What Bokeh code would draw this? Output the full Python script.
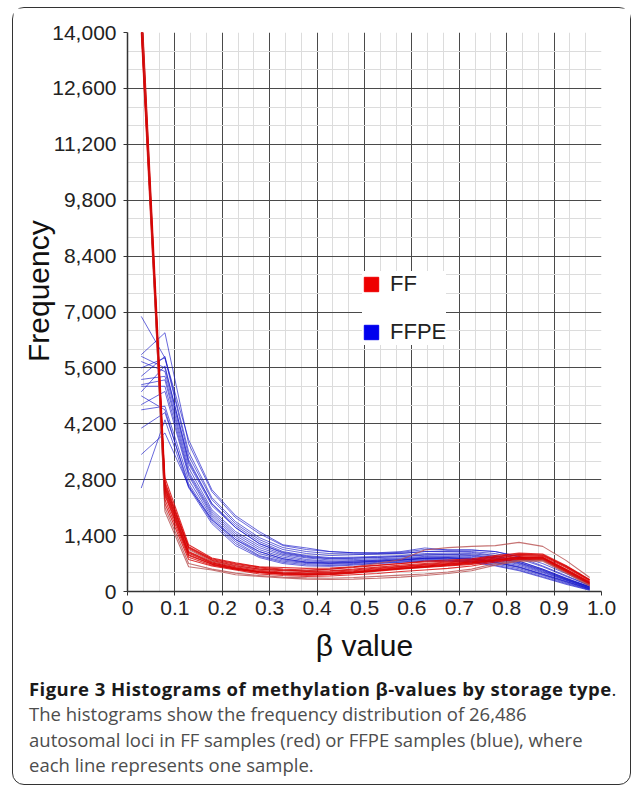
from bokeh.plotting import figure
from bokeh.models import (FixedTicker, NumeralTickFormatter, Legend, LegendItem, Div)
from bokeh.layouts import column
from bokeh.embed import file_html
from bokeh.resources import INLINE

# ---------------- data ----------------
BETA = [0.029, 0.079, 0.129, 0.178, 0.228, 0.278, 0.328, 0.378, 0.427, 0.477,
        0.527, 0.577, 0.627, 0.676, 0.726, 0.776, 0.826, 0.876, 0.925, 0.975]

FF_SAMPLES = [
    [14700, 2600, 1050, 760, 640, 560, 530, 520, 560, 620, 700, 800, 1040, 1100, 1130, 1150, 1230, 1130, 780, 350],
    [14300, 2750, 1120, 820, 700, 610, 560, 540, 560, 600, 650, 700, 760, 790, 820, 900, 960, 940, 650, 300],
    [14900, 2850, 1170, 840, 720, 620, 600, 580, 590, 620, 660, 700, 740, 760, 800, 880, 930, 920, 620, 280],
    [14500, 2700, 1080, 780, 650, 560, 520, 500, 510, 540, 590, 630, 680, 720, 760, 840, 900, 880, 600, 260],
    [14200, 2600, 1000, 740, 620, 530, 490, 470, 480, 520, 570, 620, 660, 700, 740, 820, 870, 860, 560, 240],
    [14600, 2500, 960, 710, 600, 500, 470, 450, 460, 500, 550, 600, 640, 680, 720, 790, 850, 840, 540, 220],
    [14100, 2450, 920, 690, 580, 490, 450, 430, 440, 480, 530, 580, 620, 650, 700, 780, 830, 820, 520, 200],
    [14400, 2400, 900, 680, 560, 470, 430, 410, 420, 460, 510, 560, 600, 640, 680, 760, 810, 800, 500, 180],
    [14800, 2550, 980, 720, 590, 500, 460, 440, 450, 490, 540, 590, 630, 690, 740, 800, 860, 850, 560, 230],
    [14000, 2200, 800, 640, 540, 440, 400, 380, 390, 420, 450, 500, 540, 580, 640, 740, 800, 790, 490, 170],
    [14300, 2100, 700, 560, 460, 400, 360, 340, 330, 350, 380, 410, 440, 490, 560, 700, 780, 780, 470, 160],
    [14600, 2000, 620, 540, 420, 380, 340, 310, 300, 310, 330, 360, 400, 450, 520, 660, 760, 760, 460, 140],
    [14200, 2650, 1100, 800, 680, 590, 540, 510, 520, 560, 610, 660, 700, 740, 780, 860, 920, 900, 640, 290],
    [14400, 2300, 860, 660, 560, 480, 440, 420, 430, 470, 520, 570, 610, 660, 710, 790, 840, 830, 530, 210],
]
FF_TONE = ["#b85050", "#d80000", "#d80000", "#d80000", "#d80000", "#d80000", "#d80000",
           "#d80000", "#d80000", "#d80000", "#b85050", "#b85050", "#d80000", "#d80000"]

FFPE_SAMPLES = [
    [6890, 5850, 3400, 2300, 1700, 1300, 1050, 950, 900, 920, 940, 960, 1000, 1000, 980, 900, 760, 560, 330, 120],
    [5930, 6480, 3700, 2500, 1850, 1450, 1150, 1050, 1000, 970, 960, 980, 1050, 1040, 1040, 1000, 860, 640, 400, 150],
    [5890, 5600, 3300, 2200, 1650, 1250, 1000, 900, 850, 860, 880, 900, 950, 960, 950, 880, 760, 560, 340, 120],
    [5760, 5510, 3200, 2150, 1600, 1200, 980, 880, 830, 840, 860, 880, 920, 930, 920, 850, 730, 540, 320, 110],
    [5390, 5890, 3500, 2350, 1750, 1350, 1100, 1000, 950, 940, 940, 950, 1000, 1010, 1000, 950, 820, 620, 380, 150],
    [5310, 5390, 3100, 2050, 1500, 1150, 930, 840, 790, 800, 820, 840, 880, 890, 880, 820, 700, 510, 300, 100],
    [5180, 5300, 3000, 2000, 1450, 1100, 900, 800, 760, 770, 790, 820, 860, 870, 850, 790, 680, 490, 290, 90],
    [5140, 5140, 2950, 1950, 1400, 1050, 860, 770, 740, 760, 780, 800, 840, 850, 830, 760, 650, 470, 280, 80],
    [4680, 5010, 2900, 1900, 1350, 1000, 820, 740, 720, 740, 760, 790, 830, 840, 820, 740, 620, 440, 260, 70],
    [4550, 4640, 2800, 1850, 1300, 950, 790, 720, 700, 720, 750, 780, 820, 830, 800, 720, 600, 420, 240, 60],
    [4090, 4480, 2700, 1800, 1250, 900, 760, 700, 680, 700, 730, 760, 800, 800, 770, 690, 570, 400, 220, 50],
    [3430, 3970, 2650, 1750, 1200, 880, 730, 670, 650, 680, 710, 740, 780, 780, 750, 660, 540, 370, 200, 40],
    [2590, 4300, 2600, 1700, 1150, 850, 700, 640, 630, 660, 700, 730, 760, 760, 730, 640, 520, 350, 180, 30],
    [5600, 5850, 3800, 2550, 1900, 1500, 1170, 1090, 1000, 970, 970, 1000, 1090, 1040, 1040, 1000, 880, 700, 450, 200],
    [5000, 5650, 3250, 2200, 1600, 1200, 960, 860, 820, 830, 850, 870, 910, 920, 900, 840, 720, 530, 310, 110],
    [4900, 4550, 2620, 1800, 1300, 1000, 820, 730, 710, 730, 760, 790, 830, 840, 810, 730, 610, 430, 250, 70],
]

X_TICKS = [0, 0.1, 0.2, 0.3, 0.4, 0.5, 0.6, 0.7, 0.8, 0.9, 1.0]
X_TICK_LABELS = ["0", "0.1", "0.2", "0.3", "0.4", "0.5", "0.6", "0.7", "0.8", "0.9", "1.0"]
Y_TICKS = [0, 1400, 2800, 4200, 5600, 7000, 8400, 9800, 11200, 12600, 14000]

SERIES_NAMES = ["FF", "FFPE"]
SERIES_COLORS = ["#ee0000", "#0000ee"]

CAPTION_TITLE = "Figure 3 Histograms of methylation \u03b2-values by storage type"
CAPTION_LINES = [
    "The histograms show the frequency distribution of 26,486",
    "autosomal loci in FF samples (red) or FFPE samples (blue), where",
    "each line represents one sample.",
]


def thirds(ticks):
    out = []
    for a, b in zip(ticks[:-1], ticks[1:]):
        out += [a + (b - a) / 3.0, a + 2 * (b - a) / 3.0]
    return out


# ---------------- figure ----------------
p = figure(frame_width=474, frame_height=559,
           x_range=(0, 1.0), y_range=(0, 14000),
           output_backend="svg", toolbar_location=None,
           min_border_left=114, min_border_right=29,
           min_border_top=24, min_border_bottom=74,
           background_fill_color="white", border_fill_color="white")
p.outline_line_color = None

p.xaxis.ticker = FixedTicker(ticks=X_TICKS, minor_ticks=thirds(X_TICKS))
p.yaxis.ticker = FixedTicker(ticks=Y_TICKS, minor_ticks=thirds(Y_TICKS))
p.xaxis.major_label_overrides = {t: s for t, s in zip(X_TICKS, X_TICK_LABELS)}
p.yaxis.formatter = NumeralTickFormatter(format="0,0")

for ax in (p.xaxis, p.yaxis):
    ax.axis_line_color = "#333333"
    ax.axis_line_width = 1.5
    ax.major_tick_line_color = "#333333"
    ax.major_tick_out = 4
    ax.major_tick_in = 0
    ax.minor_tick_out = 0
    ax.minor_tick_in = 0
    ax.major_label_text_font = "Liberation Sans"
    ax.major_label_text_font_size = "21px"
    ax.major_label_text_color = "#222222"
    ax.axis_label_text_font = "Liberation Sans"
    ax.axis_label_text_font_size = "30px"
    ax.axis_label_text_font_style = "normal"
    ax.axis_label_text_color = "#111111"

p.xaxis.axis_label = "\u03b2 value"
# leading no-break spaces lift the visible word above the frame centre, as in the original
p.yaxis.axis_label = "\u00a0" * 5 + "Frequency"
p.xaxis.major_label_standoff = 5
p.yaxis.major_label_standoff = 7
p.xaxis.axis_label_standoff = 11
p.yaxis.axis_label_standoff = -6

for g in (p.xgrid, p.ygrid):
    g.grid_line_color = "#4a4a4a"
    g.grid_line_width = 1
    g.minor_grid_line_color = "#dcdcdc"
    g.minor_grid_line_width = 1

# lines
for vals in FFPE_SAMPLES:
    p.line(BETA, vals, line_color="#1010c8", line_width=0.9, line_alpha=0.7)
for vals, tone in zip(FF_SAMPLES, FF_TONE):
    p.line(BETA, vals, line_color=tone, line_width=1.1, line_alpha=0.8)

# legend with square swatches (swatch renderers hold no visible point)
items = []
for name, col in zip(SERIES_NAMES, SERIES_COLORS):
    r = p.rect(x=[float("nan")], y=[float("nan")], width=1, height=1,
               fill_color=col, line_color=col)
    items.append(LegendItem(label=name, renderers=[r]))
legend = Legend(items=items, location=(235, 246), orientation="vertical",
                glyph_width=18, glyph_height=18, label_height=18,
                spacing=22, padding=10, label_standoff=10,
                label_text_font="Liberation Sans", label_text_font_size="22px",
                label_text_color="#222222",
                background_fill_color="white", background_fill_alpha=1.0,
                border_line_color=None)
p.add_layout(legend, "center")

# caption
body = "<br>".join(CAPTION_LINES)
cap_html = (
    '<div style="padding:11px 0 0 16px; font-family:\'Open Sans\'; font-size:18.5px; '
    'line-height:25.4px; color:#4d4d4d; white-space:nowrap;">'
    '<span style="font-weight:bold; color:#1a1a1a; letter-spacing:0.45px;">'
    + CAPTION_TITLE + '</span>'
    '<span style="color:#1a1a1a;">.</span><br>' + body + '</div>'
)
cap = Div(text=cap_html, width=617, height=119, margin=0)

layout = column(p, cap, spacing=0, margin=(7, 0, 0, 12),
                styles={"border": "1.6px solid #333333", "border-radius": "12px",
                        "background-color": "white"})

open("out.html", "w").write(file_html(layout, INLINE))
